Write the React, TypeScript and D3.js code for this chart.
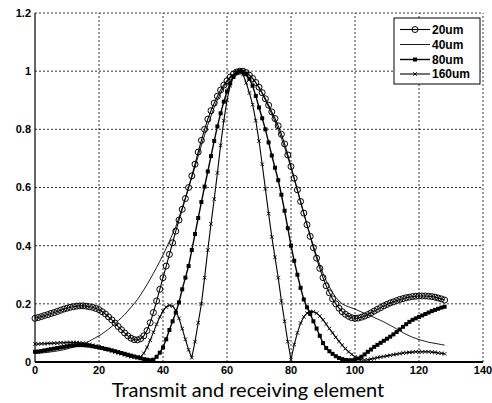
import React from 'react';
import * as d3 from 'd3';

const elements = d3.range(0, 129);

const s20 = [
  0.150, 0.153, 0.156, 0.160, 0.163, 0.167, 0.170, 0.174, 0.178, 0.182,
  0.185, 0.188, 0.190, 0.192, 0.193, 0.193, 0.192, 0.190, 0.188, 0.184,
  0.180, 0.173, 0.165, 0.155, 0.145, 0.134, 0.122, 0.111, 0.100, 0.090,
  0.082, 0.077, 0.076, 0.080, 0.090, 0.108, 0.135, 0.170, 0.210, 0.250,
  0.290, 0.330, 0.370, 0.410, 0.450, 0.488, 0.525, 0.562, 0.600, 0.640,
  0.680, 0.722, 0.762, 0.800, 0.835, 0.864, 0.890, 0.914, 0.935, 0.952,
  0.967, 0.980, 0.990, 0.997, 1.000, 1.000, 0.995, 0.986, 0.975, 0.961,
  0.945, 0.926, 0.905, 0.883, 0.860, 0.837, 0.812, 0.783, 0.750, 0.712,
  0.672, 0.632, 0.592, 0.552, 0.512, 0.472, 0.432, 0.393, 0.357, 0.322,
  0.290, 0.262, 0.238, 0.217, 0.200, 0.185, 0.173, 0.164, 0.157, 0.152,
  0.150, 0.151, 0.154, 0.158, 0.163, 0.169, 0.175, 0.181, 0.187, 0.193,
  0.198, 0.203, 0.207, 0.211, 0.215, 0.218, 0.221, 0.223, 0.225, 0.226,
  0.227, 0.227, 0.227, 0.226, 0.225, 0.223, 0.220, 0.217, 0.213,
];

const s40 = [
  0.030, 0.030, 0.031, 0.032, 0.033, 0.035, 0.036, 0.038, 0.040, 0.042,
  0.045, 0.048, 0.051, 0.054, 0.058, 0.062, 0.067, 0.072, 0.078, 0.084,
  0.090, 0.097, 0.105, 0.113, 0.122, 0.132, 0.142, 0.152, 0.163, 0.175,
  0.188, 0.201, 0.215, 0.231, 0.248, 0.266, 0.285, 0.305, 0.325, 0.346,
  0.368, 0.391, 0.415, 0.440, 0.466, 0.497, 0.530, 0.565, 0.600, 0.635,
  0.670, 0.708, 0.745, 0.780, 0.815, 0.846, 0.875, 0.901, 0.925, 0.945,
  0.962, 0.976, 0.988, 0.996, 1.000, 0.999, 0.995, 0.986, 0.975, 0.960,
  0.942, 0.922, 0.900, 0.877, 0.852, 0.827, 0.800, 0.770, 0.738, 0.704,
  0.668, 0.630, 0.590, 0.550, 0.510, 0.472, 0.435, 0.399, 0.365, 0.334,
  0.305, 0.280, 0.258, 0.239, 0.222, 0.210, 0.200, 0.194, 0.190, 0.186,
  0.182, 0.177, 0.172, 0.167, 0.162, 0.158, 0.153, 0.148, 0.143, 0.138,
  0.132, 0.126, 0.120, 0.114, 0.108, 0.101, 0.095, 0.090, 0.085, 0.081,
  0.077, 0.074, 0.071, 0.068, 0.066, 0.064, 0.062, 0.060, 0.058,
];

const s80 = [
  0.035, 0.036, 0.038, 0.040, 0.042, 0.044, 0.046, 0.048, 0.050, 0.052,
  0.054, 0.056, 0.057, 0.058, 0.058, 0.058, 0.057, 0.056, 0.054, 0.052,
  0.050, 0.048, 0.045, 0.043, 0.040, 0.037, 0.034, 0.031, 0.028, 0.025,
  0.022, 0.019, 0.016, 0.013, 0.010, 0.008, 0.006, 0.008, 0.018, 0.032,
  0.050, 0.078, 0.110, 0.140, 0.170, 0.205, 0.250, 0.290, 0.330, 0.385,
  0.440, 0.495, 0.550, 0.603, 0.655, 0.708, 0.760, 0.810, 0.855, 0.895,
  0.930, 0.958, 0.980, 0.995, 1.000, 0.998, 0.990, 0.973, 0.950, 0.915,
  0.875, 0.838, 0.800, 0.755, 0.710, 0.668, 0.625, 0.575, 0.520, 0.460,
  0.400, 0.348, 0.300, 0.255, 0.215, 0.188, 0.165, 0.140, 0.115, 0.090,
  0.065, 0.048, 0.037, 0.028, 0.020, 0.014, 0.010, 0.007, 0.006, 0.006,
  0.008, 0.012, 0.018, 0.026, 0.035, 0.043, 0.052, 0.059, 0.066, 0.073,
  0.080, 0.087, 0.095, 0.103, 0.112, 0.121, 0.130, 0.138, 0.145, 0.150,
  0.155, 0.160, 0.165, 0.170, 0.175, 0.179, 0.183, 0.187, 0.190,
];

const s160 = [
  0.062, 0.062, 0.063, 0.063, 0.064, 0.064, 0.065, 0.065, 0.066, 0.066,
  0.067, 0.067, 0.067, 0.067, 0.066, 0.065, 0.063, 0.061, 0.058, 0.055,
  0.052, 0.049, 0.045, 0.042, 0.038, 0.035, 0.031, 0.028, 0.024, 0.021,
  0.018, 0.016, 0.015, 0.018, 0.030, 0.050, 0.075, 0.102, 0.130, 0.155,
  0.175, 0.189, 0.195, 0.192, 0.178, 0.150, 0.115, 0.078, 0.042, 0.015,
  0.070, 0.135, 0.200, 0.290, 0.385, 0.475, 0.560, 0.650, 0.745, 0.830,
  0.900, 0.950, 0.982, 0.998, 1.000, 0.988, 0.960, 0.925, 0.885, 0.830,
  0.760, 0.680, 0.595, 0.510, 0.430, 0.360, 0.290, 0.210, 0.140, 0.070,
  0.008, 0.060, 0.100, 0.134, 0.155, 0.168, 0.174, 0.173, 0.168, 0.158,
  0.145, 0.130, 0.115, 0.100, 0.085, 0.071, 0.058, 0.046, 0.035, 0.026,
  0.018, 0.012, 0.008, 0.007, 0.008, 0.010, 0.012, 0.015, 0.017, 0.019,
  0.021, 0.023, 0.025, 0.027, 0.029, 0.031, 0.032, 0.033, 0.034, 0.035,
  0.035, 0.035, 0.035, 0.035, 0.034, 0.033, 0.031, 0.030, 0.028,
];

const seriesNames = ['20um', '40um', '80um', '160um'];
const xTicks = [0, 20, 40, 60, 80, 100, 120, 140];
const yTicks = [0, 0.2, 0.4, 0.6, 0.8, 1.0, 1.2];
const yTickLabels = ['0', '0.2', '0.4', '0.6', '0.8', '1', '1.2'];
const xLabel = 'Transmit and receiving element';

type MarkerKind = 'circle' | 'none' | 'square' | 'cross';

function Marker({ kind, cx, cy }: { kind: MarkerKind; cx: number; cy: number }) {
  if (kind === 'circle')
    return <circle cx={cx} cy={cy} r={3} fill="none" stroke="#000" strokeWidth={1} />;
  if (kind === 'square')
    return <rect x={cx - 2} y={cy - 2} width={4} height={4} fill="#000" />;
  if (kind === 'cross')
    return (
      <path
        d={`M${cx - 1.8},${cy - 1.8}L${cx + 1.8},${cy + 1.8}M${cx - 1.8},${cy + 1.8}L${cx + 1.8},${cy - 1.8}`}
        stroke="#000"
        strokeWidth={0.9}
      />
    );
  return null;
}

export default function App() {
  const W = 492;
  const H = 403;
  const x = d3.scaleLinear().domain([0, 140]).range([35, 483]);
  const y = d3.scaleLinear().domain([0, 1.2]).range([362, 13]);
  const [x0, x1] = x.range();
  const [y0, y1] = y.range();

  const line = d3
    .line<number>()
    .x((_, i) => x(elements[i]))
    .y((d) => y(d));

  const series: { name: string; values: number[]; marker: MarkerKind; width: number }[] = [
    { name: seriesNames[1], values: s40, marker: 'none', width: 0.9 },
    { name: seriesNames[0], values: s20, marker: 'circle', width: 1.1 },
    { name: seriesNames[2], values: s80, marker: 'square', width: 1.4 },
    { name: seriesNames[3], values: s160, marker: 'cross', width: 1.1 },
  ];
  const legendOrder = [1, 0, 2, 3];
  const legendY = [29.5, 44.5, 59.5, 74];

  const tickFont = { fontFamily: 'Liberation Sans, Arial, sans-serif', fontWeight: 700, fontSize: 11 };

  return (
    <svg
      width={W}
      height={H}
      style={{ position: 'absolute', left: 0, top: 0, background: '#fff' }}
    >
      <rect x={0} y={0} width={W} height={H} fill="#fff" />
      {/* grid */}
      <g stroke="#000" strokeWidth={0.8} strokeDasharray="2,2">
        {xTicks.slice(1).map((t) => (
          <line key={'gx' + t} x1={x(t)} x2={x(t)} y1={y0} y2={y1} />
        ))}
        {yTicks.slice(1).map((t) => (
          <line key={'gy' + t} x1={x0} x2={x1} y1={y(t)} y2={y(t)} />
        ))}
      </g>
      {/* series */}
      {series.map((s) => (
        <g key={s.name}>
          <path d={line(s.values) || ''} fill="none" stroke="#000" strokeWidth={s.width} />
          {s.marker !== 'none' &&
            s.values.map((v, i) => (
              <Marker key={i} kind={s.marker} cx={x(elements[i])} cy={y(v)} />
            ))}
        </g>
      ))}
      {/* axes */}
      <line x1={x0} x2={x0} y1={y1} y2={y0} stroke="#000" strokeWidth={1.2} />
      <line x1={x0} x2={x1} y1={y0} y2={y0} stroke="#000" strokeWidth={2.2} />
      {/* tick labels */}
      {yTicks.map((t, i) => (
        <text key={'yl' + t} x={x0 - 4} y={y(t)} dy="0.35em" textAnchor="end" {...tickFont}>
          {yTickLabels[i]}
        </text>
      ))}
      {xTicks.map((t) => (
        <text key={'xl' + t} x={x(t)} y={y0 + 12} textAnchor="middle" {...tickFont}>
          {t}
        </text>
      ))}
      <text
        x={248}
        y={397}
        textAnchor="middle"
        fontFamily="Lato, 'Open Sans', sans-serif"
        fontSize={20}
        fill="#000"
      >
        {xLabel}
      </text>
      {/* legend */}
      <rect x={394} y={18} width={86} height={66} fill="#fff" stroke="#000" strokeWidth={1} />
      {legendOrder.map((si, k) => {
        const s = series[si];
        const ly = legendY[k];
        return (
          <g key={'lg' + s.name}>
            <line x1={400} x2={430} y1={ly} y2={ly} stroke="#000" strokeWidth={s.width} />
            <Marker kind={s.marker} cx={415} cy={ly} />
            <text x={432} y={ly} dy="0.36em" {...tickFont} fontSize={12}>
              {s.name}
            </text>
          </g>
        );
      })}
    </svg>
  );
}
